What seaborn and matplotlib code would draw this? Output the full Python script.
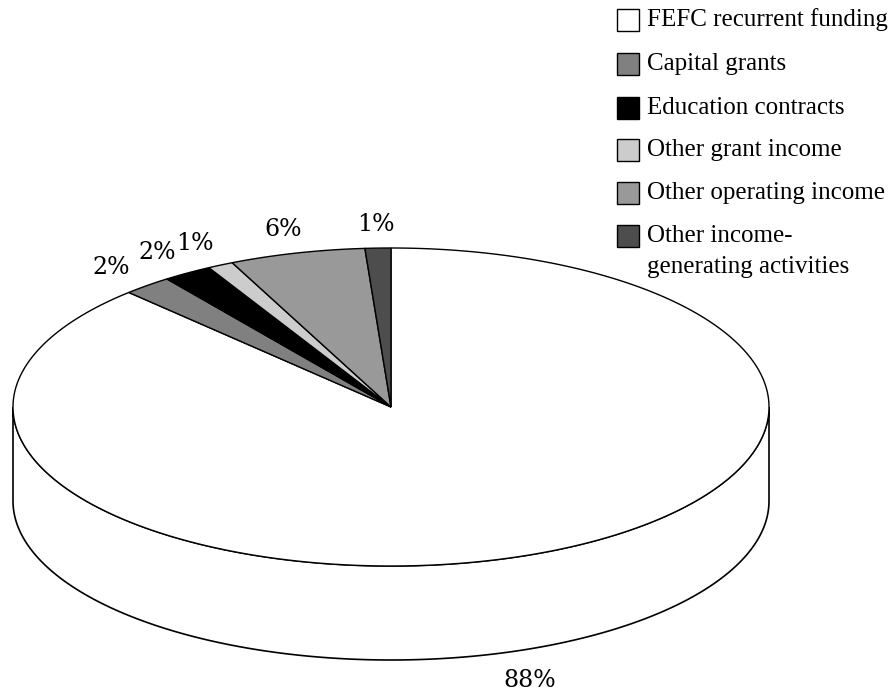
import numpy as np
import matplotlib
matplotlib.use("Agg")
import matplotlib.pyplot as plt
import seaborn as sns
from matplotlib.patches import Polygon, Rectangle

categories = ["FEFC recurrent funding", "Capital grants", "Education contracts",
              "Other grant income", "Other operating income",
              "Other income-\ngenerating activities"]
values = [87.8, 2.1, 2.1, 1.1, 5.8, 1.1]
pct_labels = ["88%", "2%", "2%", "1%", "6%", "1%"]
colors = ["#ffffff", "#808080", "#000000", "#cccccc", "#999999", "#4d4d4d"]

sns.set_theme(style="white")
plt.rcParams['font.family'] = ['Liberation Serif', 'DejaVu Serif']

fig = plt.figure(figsize=(8.91, 6.96), dpi=100)
ax = fig.add_axes([0, 0, 1, 1])
ax.set_xlim(0, 891)
ax.set_ylim(696, 0)
ax.axis("off")

cx, cy = 391, 407
rx, ry = 378, 159
depth = 94

def pt(theta, dz=0.0, f=1.0):
    # theta measured clockwise from 12 o'clock, radians
    return cx + f * rx * np.sin(theta), cy - f * ry * np.cos(theta) + dz

total = float(sum(values))
bounds = np.concatenate([[0], np.cumsum(values)]) / total * 2 * np.pi

# side walls (front half)
for i, (a0, a1) in enumerate(zip(bounds[:-1], bounds[1:])):
    s0, s1 = max(a0, np.pi / 2), min(a1, 3 * np.pi / 2)
    if s1 <= s0:
        continue
    th = np.linspace(s0, s1, 200)
    top = [pt(t) for t in th]
    bot = [pt(t, depth) for t in th[::-1]]
    ax.add_patch(Polygon(top + bot, closed=True, facecolor=colors[i],
                         edgecolor="black", linewidth=1.2, zorder=1))

# top faces
for i, (a0, a1) in enumerate(zip(bounds[:-1], bounds[1:])):
    th = np.linspace(a0, a1, max(int((a1 - a0) * 100), 4))
    verts = [(cx, cy)] + [pt(t) for t in th]
    ax.add_patch(Polygon(verts, closed=True, facecolor=colors[i],
                         edgecolor="black", linewidth=1.0, zorder=2))

# percentage labels
for i, (a0, a1) in enumerate(zip(bounds[:-1], bounds[1:])):
    mid = (a0 + a1) / 2
    x, y = pt(mid, f=1.15)
    if np.pi / 2 < mid < 3 * np.pi / 2:
        y += depth + 10
        x -= 24
    ax.text(x, y, pct_labels[i], ha="center", va="center", fontsize=17,
            family=["DejaVu Serif"], color="black", zorder=3)

# legend
rows = [20, 64, 108, 150, 193, 236]
for name, col, yc in zip(categories, colors, rows):
    ax.add_patch(Rectangle((617, yc - 11), 22, 22, facecolor=col,
                           edgecolor="black", linewidth=1.0))
    lines = name.split("\n")
    for k, line in enumerate(lines):
        ax.text(647, yc + 31 * k, line, ha="left", va="center", fontsize=18,
                color="black")

fig.savefig("out.png", dpi=100)
